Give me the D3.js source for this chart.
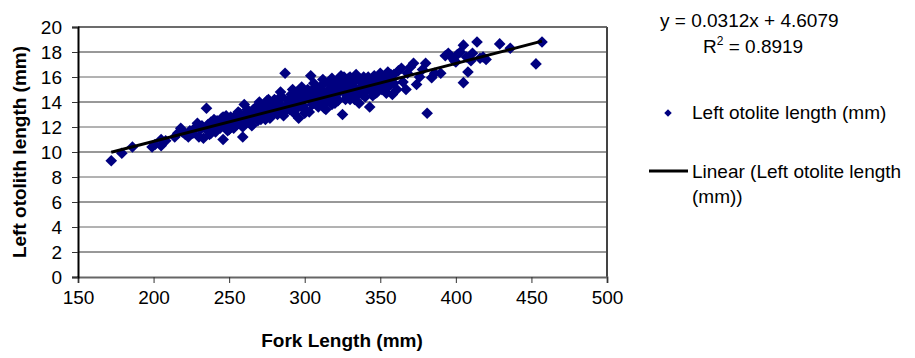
<!DOCTYPE html>
<html><head><meta charset="utf-8">
<script src="https://cdn.jsdelivr.net/npm/d3@7"></script>
<style>body{margin:0;background:#fff}svg{display:block}text{font-family:"Liberation Sans",Arial,sans-serif}</style>
</head><body>
<script>
const forkLength = [172,179,186,199,201,205,205,208,214,216,218,219,221,223,224,226,228,229,230,231,232,233,234,235,236,237,238,239,240,241,242,243,244,245,246,247,248,249,250,251,252,253,254,255,256,257,258,259,260,261,262,263,264,265,266,267,268,269,270,271,272,273,274,275,276,277,278,279,280,281,282,283,284,285,286,287,288,289,290,291,292,293,294,295,296,297,298,299,300,301,302,303,304,305,306,307,308,309,310,311,312,313,314,315,316,317,318,319,320,321,322,323,324,325,326,327,328,329,330,331,332,333,334,335,336,337,338,339,340,341,342,343,344,345,346,347,348,349,350,351,352,353,354,355,356,357,358,359,361,362,364,365,367,368,370,372,374,376,378,380,381,384,386,390,393,395,397,399,400,401,403,405,405,407,408,410,411,414,416,418,420,429,436,453,457,
238,240,242,244,246,248,250,251,253,255,257,259,261,263,265,267,269,271,273,275,277,279,281,283,285,287,289,291,293,295,297,299,301,303,305,307,309,311,313,315,317,319,321,323,325,327,329,331,333,335,337,339,341,343,345,347,349,351,353,355,357,359,284,292,298,306,312,318,326,334,270,276,262,256,248,300,310,320,330,340];
const otolithLength = [9.3,9.9,10.4,10.4,10.6,10.5,11.0,10.9,11.2,11.5,11.9,11.6,11.4,11.2,11.7,11.5,12.0,12.3,11.2,11.8,12.1,11.1,11.9,13.5,12.2,11.4,12.4,11.8,12.0,11.6,12.5,12.3,11.9,12.7,11.0,12.2,12.9,11.7,12.4,12.8,12.1,11.9,12.6,13.0,12.3,12.8,12.5,11.2,13.8,12.4,12.9,13.2,12.6,12.1,13.4,12.8,13.0,12.5,14.0,13.3,12.8,13.6,12.6,14.1,13.1,13.8,12.9,13.4,14.2,13.6,13.0,13.9,13.3,14.4,12.9,16.3,13.7,14.1,13.4,14.6,13.8,13.1,14.3,14.8,12.7,14.0,13.6,14.9,14.4,13.3,15.0,13.2,16.1,14.6,13.9,15.2,14.2,13.6,14.8,15.3,14.0,13.5,13.4,14.9,15.5,14.3,13.8,15.1,14.6,15.7,14.1,15.2,16.1,13.0,14.8,15.6,14.4,15.9,16.0,14.7,15.3,14.2,15.8,15.9,13.9,15.1,14.6,16.0,15.4,14.9,16.0,13.6,15.6,14.5,16.1,15.2,14.8,15.8,16.3,15.0,15.5,16.0,14.7,16.4,15.3,15.8,14.6,16.2,15.0,16.5,16.7,15.6,15.0,16.3,16.8,17.1,15.4,16.0,16.6,17.1,13.1,15.95,16.3,16.3,17.7,17.9,17.6,17.3,17.2,17.8,18.0,18.55,15.55,17.6,16.4,17.3,17.9,18.8,17.5,17.6,17.4,18.65,18.3,17.05,18.8,
11.5,12.6,11.8,12.4,12.8,12.0,11.8,12.3,12.6,12.2,13.1,12.0,13.0,12.4,13.1,13.5,13.2,12.6,13.0,13.4,12.7,14.0,13.2,14.3,13.6,13.2,13.5,14.2,14.0,13.5,14.5,13.7,14.7,14.2,13.8,14.6,14.9,14.4,14.7,14.1,15.0,14.5,14.3,14.8,15.4,14.2,15.1,15.5,15.0,14.6,15.6,15.2,15.7,15.0,15.5,14.7,15.3,16.0,15.2,15.7,16.2,15.5,14.8,15.0,15.2,15.5,15.8,15.9,16.0,16.2,13.7,14.2,13.4,13.2,12.4,13.1,13.8,13.9,14.2,14.4];
const xTicks = [150,200,250,300,350,400,450,500];
const yTicks = [0,2,4,6,8,10,12,14,16,18,20];
const slope = 0.0312, intercept = 4.6079, r2 = 0.8919;
const equationLabel = "y = 0.0312x + 4.6079";
const seriesName = "Left otolite length (mm)";
const trendName = ["Linear (Left otolite length", "(mm))"];
const xTitle = "Fork Length (mm)", yTitle = "Left otolith length (mm)";

const W = 915, H = 358;
const L = 78, R = 607, T = 27, B = 277;
const svg = d3.select("body").append("svg").attr("width", W).attr("height", H);
const x = d3.scaleLinear().domain([150, 500]).range([L, R]);
const y = d3.scaleLinear().domain([0, 20]).range([B, T]);
const fs = 19;

// gridlines
svg.append("g").selectAll("line").data(yTicks.filter(d => d > 0)).join("line")
  .attr("x1", L).attr("x2", R).attr("y1", d => y(d)).attr("y2", d => y(d))
  .attr("stroke", (d, i) => i % 2 ? "#666" : "#333").attr("stroke-width", 1);
svg.append("line").attr("x1", R).attr("x2", R).attr("y1", T).attr("y2", B).attr("stroke", "#444").attr("stroke-width", 2);
svg.append("line").attr("x1", L).attr("x2", R).attr("y1", T).attr("y2", T).attr("stroke", "#555").attr("stroke-width", 1.5);

// axes
const xAxis = svg.append("g").attr("transform", `translate(0,${B})`)
  .call(d3.axisBottom(x).tickValues(xTicks).tickSize(6).tickPadding(8));
xAxis.select(".domain").attr("stroke", "#666").attr("stroke-width", 2);
xAxis.selectAll(".tick line").attr("stroke", "#333");
xAxis.selectAll("text").attr("font-size", fs).attr("fill", "#000").attr("font-family", "Liberation Sans, Arial, sans-serif");

const yAxis = svg.append("g").attr("transform", `translate(${L},0)`)
  .call(d3.axisLeft(y).tickValues(yTicks).tickSize(6).tickPadding(10));
yAxis.select(".domain").attr("stroke", "#000").attr("stroke-width", 2);
yAxis.selectAll(".tick line").attr("stroke", "#333");
yAxis.selectAll("text").attr("font-size", fs).attr("fill", "#000").attr("font-family", "Liberation Sans, Arial, sans-serif");

// points
const pts = forkLength.map((f, i) => [f, otolithLength[i]]);
const diamond = d3.symbol().type(d3.symbolSquare).size(68);
svg.append("g").selectAll("path").data(pts).join("path")
  .attr("d", diamond)
  .attr("transform", d => `translate(${x(d[0])},${y(d[1])}) rotate(45)`)
  .attr("fill", "#000080");

// trend line
const xMin = d3.min(forkLength), xMax = d3.max(forkLength);
svg.append("line")
  .attr("x1", x(xMin)).attr("y1", y(slope * xMin + intercept))
  .attr("x2", x(xMax)).attr("y2", y(slope * xMax + intercept))
  .attr("stroke", "#000").attr("stroke-width", 3);

// titles
svg.append("text").attr("x", 342).attr("y", 347).attr("text-anchor", "middle")
  .attr("font-size", fs).attr("font-weight", "bold").text(xTitle);
svg.append("text").attr("transform", `translate(26,${(T + B) / 2}) rotate(-90)`).attr("text-anchor", "middle")
  .attr("font-size", fs).attr("font-weight", "bold").text(yTitle);

// equation
svg.append("text").attr("x", 660).attr("y", 27).attr("font-size", fs).text(equationLabel);
const rt = svg.append("text").attr("x", 703).attr("y", 53).attr("font-size", fs);
rt.append("tspan").text("R");
rt.append("tspan").attr("dy", -8).attr("font-size", 12).text("2");
rt.append("tspan").attr("dy", 8).text(" = " + r2.toFixed(4));

// legend
svg.append("path").attr("d", d3.symbol().type(d3.symbolSquare).size(28))
  .attr("transform", "translate(668,113) rotate(45)").attr("fill", "#000080");
svg.append("text").attr("x", 692).attr("y", 119).attr("font-size", fs).text(seriesName);
svg.append("line").attr("x1", 649).attr("x2", 688).attr("y1", 171).attr("y2", 171).attr("stroke", "#000").attr("stroke-width", 3);
svg.append("text").attr("x", 692).attr("y", 178).attr("font-size", fs).text(trendName[0]);
svg.append("text").attr("x", 692).attr("y", 203).attr("font-size", fs).text(trendName[1]);
</script>
</body></html>
